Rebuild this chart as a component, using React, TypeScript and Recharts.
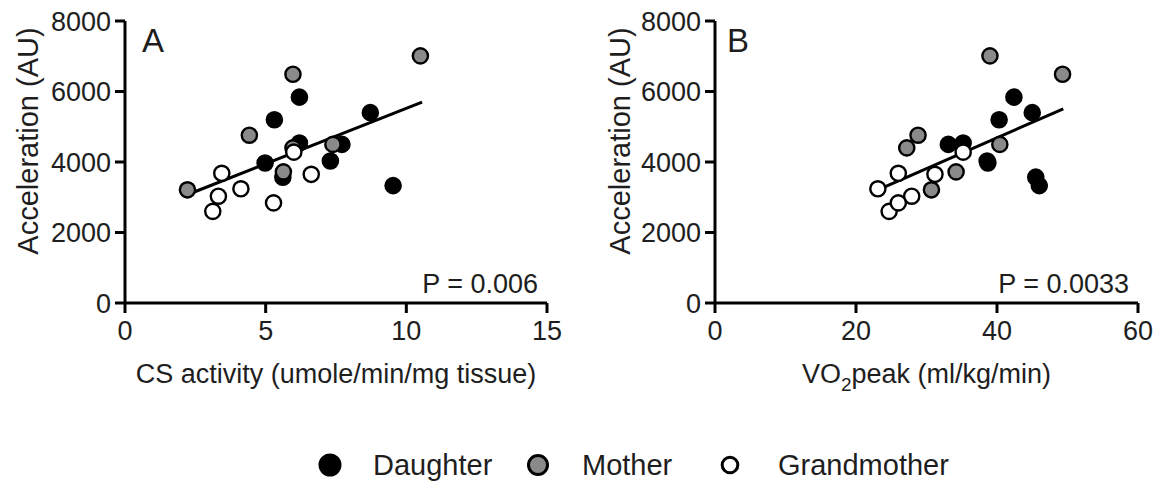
import React from 'react';
import { ScatterChart, Scatter, XAxis, YAxis, ReferenceLine, Customized } from 'recharts';

// ---- data ----
const seriesNames = ['Daughter', 'Mother', 'Grandmother'];
const seriesFills = ['#000000', '#8a8a8a', '#ffffff'];

const daughterAcc = [5200, 5840, 5400, 3970, 4030, 3330, 3570, 4540, 4500];
const daughterCS = [5.31, 6.2, 8.72, 4.98, 7.3, 9.53, 5.61, 6.2, 7.71];
const daughterVO2 = [40.3, 42.4, 45.0, 38.7, 38.6, 46.0, 45.5, 35.2, 33.1];

const motherAcc = [3210, 4760, 6490, 7010, 4400, 3720, 4500];
const motherCS = [2.22, 4.42, 5.97, 10.5, 5.97, 5.63, 7.39];
const motherVO2 = [30.7, 28.8, 49.3, 39.0, 27.2, 34.2, 40.4];

const grandAcc = [3680, 3030, 3240, 2600, 2840, 3650, 4280];
const grandCS = [3.44, 3.32, 4.12, 3.12, 5.28, 6.62, 6.0];
const grandVO2 = [26.0, 27.9, 23.1, 24.7, 26.0, 31.2, 35.2];

const accTicks = [0, 2000, 4000, 6000, 8000];
const csTicks = [0, 5, 10, 15];
const vo2Ticks = [0, 20, 40, 60];

const csFitX = [2.37, 10.56];
const csFitY = [3120, 5700];
const vo2FitX = [23.1, 49.4];
const vo2FitY = [3210, 5510];

const panelLetters = ['A', 'B'];
const pValues = ['P = 0.006', 'P = 0.0033'];

// ---- helpers ----
const FONT = '"Liberation Sans", Arial, Helvetica, sans-serif';
const TEXT = '#1e1e1e';

const zip = (xs: number[], ys: number[]) => xs.map((x, i) => ({ x, y: ys[i] }));

const makeDot = (fill: string) => (props: any) => (
  <circle cx={props.cx} cy={props.cy} r={7.6} fill={fill} stroke="#000" strokeWidth={2.4} />
);

type PanelProps = {
  width: number;
  height: number;
  marginRight: number;
  xDomain: [number, number];
  xTicks: number[];
  series: { x: number; y: number }[][];
  fitX: number[];
  fitY: number[];
  letter: string;
  letterX: number;
  pText: string;
  xTitle: React.ReactNode;
  yTitleX: number;
};

function Panel(p: PanelProps) {
  const plotLeft = 125;
  const plotTop = 21;
  const plotRight = p.width - p.marginRight;
  const plotBottom = 303;
  const cx = (plotLeft + plotRight) / 2;
  return (
    <ScatterChart
      width={p.width}
      height={p.height}
      margin={{ top: plotTop, right: p.marginRight, bottom: 0, left: 0 }}
    >
      <XAxis
        type="number"
        dataKey="x"
        domain={p.xDomain}
        ticks={p.xTicks}
        interval={0}
        height={p.height - plotBottom}
        tickSize={10}
        tickMargin={8}
        axisLine={{ stroke: '#000', strokeWidth: 3 }}
        tickLine={{ stroke: '#000', strokeWidth: 3 }}
        tick={{ fontSize: 27, fill: TEXT, fontFamily: FONT }}
      />
      <YAxis
        type="number"
        dataKey="y"
        domain={[0, 8000]}
        ticks={accTicks}
        interval={0}
        width={plotLeft}
        tickSize={10}
        tickMargin={4}
        axisLine={{ stroke: '#000', strokeWidth: 3 }}
        tickLine={{ stroke: '#000', strokeWidth: 3 }}
        tick={{ fontSize: 27, fill: TEXT, fontFamily: FONT }}
      />
      {p.series.map((d, i) => (
        <Scatter
          key={seriesNames[i]}
          name={seriesNames[i]}
          data={d}
          isAnimationActive={false}
          shape={makeDot(seriesFills[i])}
        />
      ))}
      <ReferenceLine
        segment={[
          { x: p.fitX[0], y: p.fitY[0] },
          { x: p.fitX[1], y: p.fitY[1] },
        ]}
        stroke="#000"
        strokeWidth={3}
      />
      <Customized
        component={() => (
          <g fontFamily={FONT} fill={TEXT}>
            <text x={p.letterX} y={52} fontSize={33}>
              {p.letter}
            </text>
            <text x={plotRight - 9} y={293} fontSize={27} textAnchor="end">
              {p.pText}
            </text>
            <text x={cx} y={383} fontSize={27} textAnchor="middle">
              {p.xTitle}
            </text>
            <text
              x={p.yTitleX}
              y={141}
              fontSize={29}
              textAnchor="middle"
              transform={`rotate(-90, ${p.yTitleX}, 141)`}
            >
              Acceleration (AU)
            </text>
          </g>
        )}
      />
    </ScatterChart>
  );
}

function Legend() {
  const cxs = [330, 538, 730];
  const rs = [10, 9.5, 7.8];
  const tx = [373, 582, 778];
  return (
    <svg width={1156} height={42} style={{ position: 'absolute', left: 0, top: 440 }}>
      {seriesNames.map((n, i) => (
        <g key={n}>
          <circle cx={cxs[i]} cy={25} r={rs[i]} fill={seriesFills[i]} stroke="#000" strokeWidth={3} />
          <text x={tx[i]} y={35} fontSize={29} fontFamily={FONT} fill={TEXT}>
            {n}
          </text>
        </g>
      ))}
    </svg>
  );
}

export default function App() {
  const seriesA = [zip(daughterCS, daughterAcc), zip(motherCS, motherAcc), zip(grandCS, grandAcc)];
  const seriesB = [zip(daughterVO2, daughterAcc), zip(motherVO2, motherAcc), zip(grandVO2, grandAcc)];
  return (
    <div
      style={{
        position: 'absolute',
        left: 0,
        top: 0,
        width: 1156,
        height: 482,
        background: '#fff',
        overflow: 'hidden',
      }}
    >
      <div style={{ position: 'absolute', left: 0, top: 0 }}>
        <Panel
          width={578}
          height={420}
          marginRight={31}
          xDomain={[0, 15]}
          xTicks={csTicks}
          series={seriesA}
          fitX={csFitX}
          fitY={csFitY}
          letter={panelLetters[0]}
          letterX={142}
          pText={pValues[0]}
          xTitle="CS activity (umole/min/mg tissue)"
          yTitleX={38}
        />
      </div>
      <div style={{ position: 'absolute', left: 590, top: 0 }}>
        <Panel
          width={566}
          height={420}
          marginRight={18}
          xDomain={[0, 60]}
          xTicks={vo2Ticks}
          series={seriesB}
          fitX={vo2FitX}
          fitY={vo2FitY}
          letter={panelLetters[1]}
          letterX={137}
          pText={pValues[1]}
          xTitle={
            <>
              <tspan>VO</tspan>
              <tspan dy={8} fontSize={19}>2</tspan>
              <tspan dy={-8}>peak (ml/kg/min)</tspan>
            </>
          }
          yTitleX={40}
        />
      </div>
      <Legend />
    </div>
  );
}
